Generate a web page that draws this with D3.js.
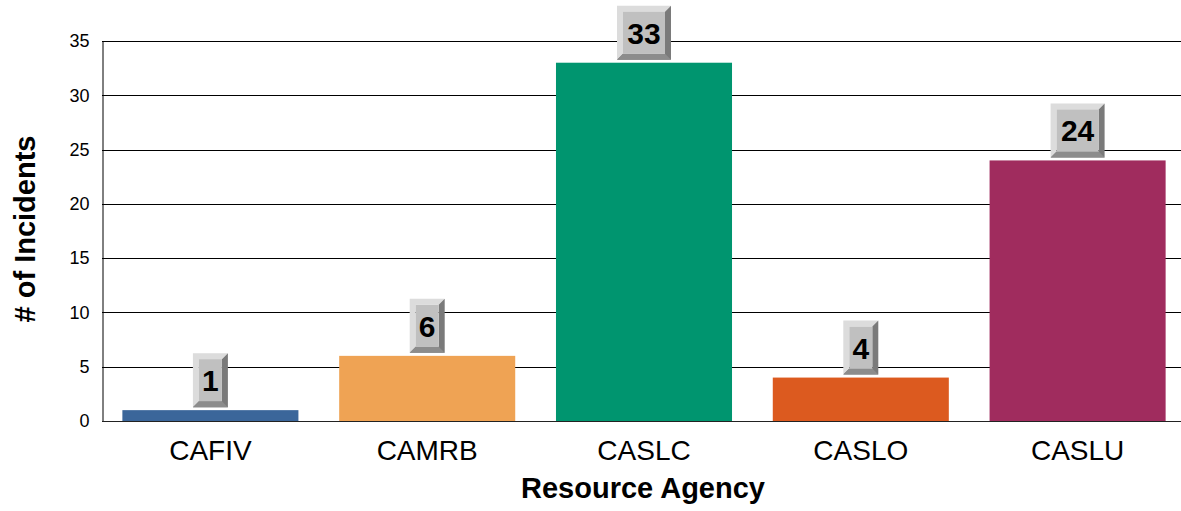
<!DOCTYPE html>
<html>
<head>
<script src="https://d3js.org/d3.v7.min.js"></script>
<style>
    body { margin: 0; background: #fff; }
    text { font-family: Arial, "Liberation Sans", sans-serif; }
</style>
</head>
<body>
<script>
var agencies = ['CAFIV', 'CAMRB', 'CASLC', 'CASLO', 'CASLU'];
var incidents = [1, 6, 33, 4, 24];
var barColors = ['#3b669a', '#efa354', '#00956f', '#dc5a1f', '#a02c5e'];
var yTicks = [0, 5, 10, 15, 20, 25, 30, 35];

var width = 1181;
var height = 511;
var plotLeft = 102, plotTop = 41, plotBottom = 421, plotRight = 1181;

var svg = d3.select('body')
    .append('svg')
    .attr('width', width)
    .attr('height', height);

// scales
var xScale = d3.scaleBand()
    .domain(agencies)
    .range([plotLeft, 1186])
    .paddingInner(0.188)
    .paddingOuter(0.094);

var yScale = d3.scaleLinear()
    .domain([0, 35])
    .range([plotBottom, plotTop]);

// gridlines
svg.append('g')
    .selectAll('line')
    .data(yTicks)
    .enter()
    .append('line')
    .attr('x1', plotLeft)
    .attr('x2', plotRight)
    .attr('y1', d => Math.round(yScale(d)) + 0.5)
    .attr('y2', d => Math.round(yScale(d)) + 0.5)
    .attr('stroke', '#000')
    .attr('stroke-width', 1);

// y axis
var yAxis = d3.axisLeft(yScale)
    .tickValues(yTicks)
    .tickSize(0)
    .tickPadding(13);

svg.append('g')
    .attr('transform', 'translate(' + (plotLeft + 0.5) + ',0)')
    .call(yAxis)
    .call(g => g.select('.domain').attr('stroke', '#000'))
    .selectAll('text')
    .attr('font-size', 18)
    .attr('font-family', 'Arial, "Liberation Sans", sans-serif')
    .attr('fill', '#000');

// bars
svg.selectAll('rect.bar')
    .data(incidents)
    .enter()
    .append('rect')
    .attr('class', 'bar')
    .attr('x', (d, i) => xScale(agencies[i]))
    .attr('y', d => yScale(d))
    .attr('width', xScale.bandwidth())
    .attr('height', d => plotBottom - yScale(d))
    .style('fill', (d, i) => barColors[i]);

// x axis
var xAxis = d3.axisBottom(xScale).tickSize(0).tickPadding(19);
svg.append('g')
    .attr('transform', 'translate(0,' + (plotBottom + 0.5) + ')')
    .call(xAxis)
    .call(g => g.select('.domain').attr('stroke', '#222').attr('d', 'M' + plotLeft + ',0H' + plotRight))
    .selectAll('text')
    .attr('font-size', 28)
    .attr('font-family', 'Arial, "Liberation Sans", sans-serif')
    .attr('fill', '#000');

// value labels as bevelled boxes
var bevel = 6;
var labels = svg.append('g')
    .selectAll('g')
    .data(incidents)
    .enter()
    .append('g')
    .attr('transform', (d, i) => {
        var w = String(d).length > 1 ? 54 : 35;
        var cx = xScale(agencies[i]) + xScale.bandwidth() / 2;
        return 'translate(' + (cx - w / 2) + ',' + (yScale(d) - 3 - 54) + ')';
    });

labels.each(function (d) {
    var g = d3.select(this);
    var w = String(d).length > 1 ? 54 : 35;
    var h = 54;
    // light top / left
    g.append('polygon')
        .attr('points', [[0, 0], [w, 0], [w - bevel, bevel], [bevel, bevel], [bevel, h - bevel], [0, h]].join(' '))
        .attr('fill', '#dcdcdc');
    // dark right / bottom
    g.append('polygon')
        .attr('points', [[w, 0], [w, h], [0, h], [bevel, h - bevel], [w - bevel, h - bevel], [w - bevel, bevel]].join(' '))
        .attr('fill', '#7a7a7a');
    g.append('polygon')
        .attr('points', [[0, h], [bevel, h - bevel], [w - bevel, h - bevel], [w, h]].join(' '))
        .attr('fill', '#8c8c8c');
    g.append('rect')
        .attr('x', bevel)
        .attr('y', bevel)
        .attr('width', w - 2 * bevel)
        .attr('height', h - 2 * bevel)
        .attr('fill', '#c0c0c0');
    g.append('text')
        .attr('x', w / 2)
        .attr('y', h / 2 + 11)
        .attr('text-anchor', 'middle')
        .attr('font-size', 30)
        .attr('font-weight', 'bold')
        .attr('fill', '#000')
        .text(d);
});

// axis titles
svg.append('text')
    .attr('transform', 'translate(35,229) rotate(-90)')
    .attr('text-anchor', 'middle')
    .attr('font-size', 29)
    .attr('font-weight', 'bold')
    .text('# of Incidents');

svg.append('text')
    .attr('x', 643)
    .attr('y', 498)
    .attr('text-anchor', 'middle')
    .attr('font-size', 29)
    .attr('font-weight', 'bold')
    .text('Resource Agency');
</script>
</body>
</html>
